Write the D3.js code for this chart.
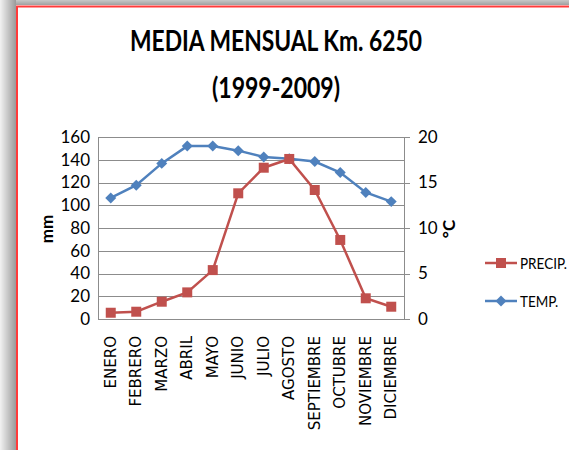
<!DOCTYPE html>
<html><head><meta charset="utf-8">
<script src="https://cdn.jsdelivr.net/npm/d3@7"></script>
<style>body{margin:0;background:#fff} svg{display:block}</style>
</head><body><svg id="c" width="569" height="450"></svg>
<script>
const months = ["ENERO","FEBRERO","MARZO","ABRIL","MAYO","JUNIO","JULIO","AGOSTO","SEPTIEMBRE","OCTUBRE","NOVIEMBRE","DICIEMBRE"];
const precip = [5.5, 6.4, 15.2, 23.4, 43, 110.5, 133, 140.7, 113.4, 69.5, 18.2, 10.8];
const temp = [13.3, 14.7, 17.1, 19.0, 19.0, 18.5, 17.8, 17.6, 17.3, 16.1, 13.9, 12.9];
const mmTicks = [0, 20, 40, 60, 80, 100, 120, 140, 160];
const cTicks = [0, 5, 10, 15, 20];
const seriesNames = ["PRECIP.", "TEMP."];
const titleLines = ["MEDIA MENSUAL Km. 6250", "(1999-2009)"];

const RED = "#C0504D", BLUE = "#4F81BD", GRID = "#8c8c8c";
const svg = d3.select("#c");
const defs = svg.append("defs");
const gl = defs.append("linearGradient").attr("id","gl").attr("x1",0).attr("x2",1).attr("y1",0).attr("y2",0);
gl.append("stop").attr("offset","0%").attr("stop-color","#f2f2f2");
gl.append("stop").attr("offset","100%").attr("stop-color","#9a9a9a");
const gt = defs.append("linearGradient").attr("id","gt").attr("x1",0).attr("x2",0).attr("y1",0).attr("y2",1);
gt.append("stop").attr("offset","0%").attr("stop-color","#c8c8c8");
gt.append("stop").attr("offset","100%").attr("stop-color","#a0a0a0");

// background / shadow
svg.append("rect").attr("x",0).attr("y",0).attr("width",569).attr("height",450).attr("fill","#fff");
svg.append("rect").attr("x",0).attr("y",0).attr("width",16).attr("height",450).attr("fill","url(#gl)");
svg.append("rect").attr("x",16).attr("y",0).attr("width",553).attr("height",5).attr("fill","url(#gt)");
svg.append("rect").attr("x",17).attr("y",6.5).attr("width",600).attr("height",500)
  .attr("fill","#fff").attr("stroke","#ff3b3b").attr("stroke-width",2);

// title
const tfont = "Lato, 'Open Sans', sans-serif";
svg.append("text").attr("x",276).attr("y",51).attr("text-anchor","middle")
  .attr("font-family",tfont).attr("font-weight","bold").attr("font-size",28)
  .attr("textLength",292).attr("lengthAdjust","spacingAndGlyphs").attr("fill","#000").text(titleLines[0]);
svg.append("text").attr("x",276).attr("y",98).attr("text-anchor","middle")
  .attr("font-family",tfont).attr("font-weight","bold").attr("font-size",29)
  .attr("textLength",128).attr("lengthAdjust","spacingAndGlyphs").attr("fill","#000").text(titleLines[1]);

const L = 98, R = 404, T = 137, B = 319;
const x = d3.scaleBand().domain(months).range([L, R]);
const cx = m => x(m) + x.bandwidth()/2;
const yL = d3.scaleLinear().domain([0,160]).range([B, T]);
const yR = d3.scaleLinear().domain([0,20]).range([B, T]);

// gridlines
const grid = svg.append("g").attr("transform",`translate(${L},0)`)
  .call(d3.axisLeft(yL).tickValues(mmTicks).tickSize(-(R-L)).tickFormat(""));
grid.select(".domain").remove();
grid.selectAll("line").attr("stroke",GRID).attr("stroke-width",1).attr("shape-rendering","crispEdges");

// left axis
const ax = svg.append("g").attr("transform",`translate(${L},0)`)
  .call(d3.axisLeft(yL).tickValues(mmTicks).tickSize(0).tickPadding(8));
ax.select(".domain").attr("stroke",GRID).attr("shape-rendering","crispEdges");
ax.selectAll("text").attr("font-family",tfont).attr("font-size",17).attr("fill","#000");

// right axis
const ar = svg.append("g").attr("transform",`translate(${R},0)`)
  .call(d3.axisRight(yR).tickValues(cTicks).tickSize(6).tickPadding(8));
ar.select(".domain").attr("stroke",GRID).attr("shape-rendering","crispEdges");
ar.selectAll("line").attr("stroke",GRID).attr("shape-rendering","crispEdges");
ar.selectAll("text").attr("font-family",tfont).attr("font-size",17).attr("fill","#000");

// bottom axis
const ab = svg.append("g").attr("transform",`translate(0,${B})`)
  .call(d3.axisBottom(x).tickSize(0).tickPadding(0));
ab.select(".domain").attr("stroke",GRID).attr("shape-rendering","crispEdges");
ab.selectAll("text").attr("font-family","'DejaVu Sans', sans-serif").attr("font-size",15).attr("fill","#000")
  .attr("text-anchor","end").attr("dy",null).attr("y",0)
  .attr("transform","translate(5,17) rotate(-90)");

// axis titles
svg.append("text").attr("transform","translate(53,229) rotate(-90)").attr("text-anchor","middle")
  .attr("font-family",tfont).attr("font-weight","bold").attr("font-size",17).text("mm");
svg.append("text").attr("transform","translate(455,229) rotate(-90)").attr("text-anchor","middle")
  .attr("font-family",tfont).attr("font-weight","bold").attr("font-size",17).text("°C");

// lines
const lineL = d3.line().x((d,i)=>cx(months[i])).y(d=>yL(d));
const lineR = d3.line().x((d,i)=>cx(months[i])).y(d=>yR(d));
svg.append("path").datum(temp).attr("d",lineR).attr("fill","none").attr("stroke",BLUE).attr("stroke-width",2.5);
svg.append("path").datum(precip).attr("d",lineL).attr("fill","none").attr("stroke",RED).attr("stroke-width",2.5);

const sq = d3.symbol().type(d3.symbolSquare).size(100);
const dia = d3.symbol().type(d3.symbolSquare).size(60);
svg.append("g").selectAll("path").data(temp).join("path")
  .attr("d",dia).attr("fill",BLUE)
  .attr("transform",(d,i)=>`translate(${cx(months[i])},${yR(d)}) rotate(45)`);
svg.append("g").selectAll("path").data(precip).join("path")
  .attr("d",sq).attr("fill",RED)
  .attr("transform",(d,i)=>`translate(${cx(months[i])},${yL(d)})`);

// legend
const leg = [{n:seriesNames[0],c:RED,s:sq,r:0,y:263},{n:seriesNames[1],c:BLUE,s:dia,r:45,y:301}];
const lg = svg.append("g").selectAll("g").data(leg).join("g");
lg.append("line").attr("x1",485).attr("x2",517).attr("y1",d=>d.y).attr("y2",d=>d.y)
  .attr("stroke",d=>d.c).attr("stroke-width",2.5);
lg.append("path").attr("d",d=>d.s()).attr("fill",d=>d.c)
  .attr("transform",d=>`translate(501,${d.y}) rotate(${d.r})`);
lg.append("text").attr("transform",d=>`translate(520,${d.y}) scale(1,1.2)`).attr("dy","0.35em")
  .attr("font-family",tfont).attr("font-size",13.5).attr("fill","#000").text(d=>d.n);
</script></body></html>
